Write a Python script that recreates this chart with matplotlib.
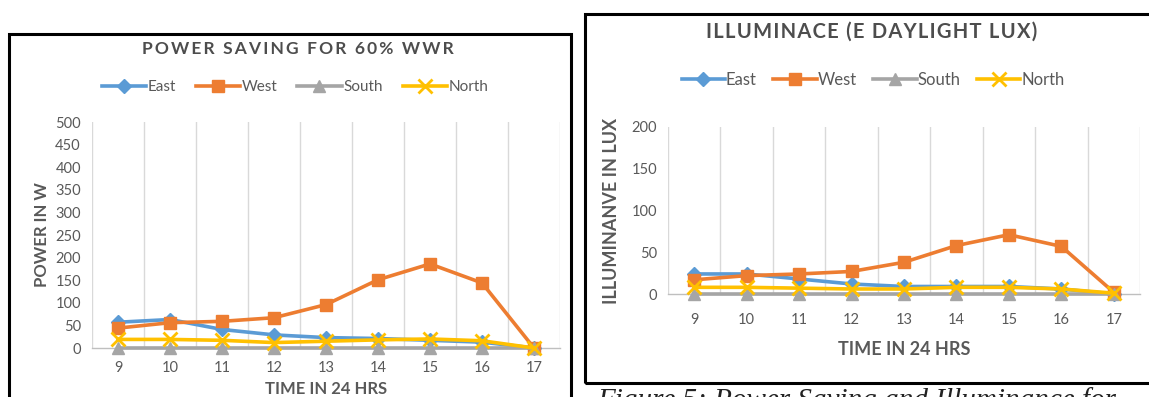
import numpy as np
import matplotlib
matplotlib.use("Agg")
import matplotlib.pyplot as plt
from matplotlib.patches import Rectangle

# hours of the day
hours = ["9", "10", "11", "12", "13", "14", "15", "16", "17"]

# power saving (W) for 60% WWR
power_east = [57, 63, 41, 29, 23, 21, 17, 13, 0]
power_west = [44, 56, 59, 67, 96, 151, 186, 144, 0]
power_south = [0, 0, 0, 0, 0, 0, 0, 0, 0]
power_north = [19, 19, 17, 12, 15, 18, 20, 16, 0]

# daylight illuminance (lux)
lux_east = [24, 24, 18, 12, 9, 9, 9, 6, 0]
lux_west = [17, 22, 24, 27, 38, 58, 71, 57, 2]
lux_south = [0, 0, 0, 0, 0, 0, 0, 0, 0]
lux_north = [8, 8, 7, 6, 6, 8, 8, 6, 1]

names = ["East", "West", "South", "North"]
colors = ["#5B9BD5", "#ED7D31", "#A5A5A5", "#FFC000"]
markers = ["D", "s", "^", "x"]
msizes = [7, 9, 9, 10]

plt.rcParams["font.family"] = ["Lato", "DejaVu Sans"]
txt = "#595959"


def spaced(s, gap="\u2009"):
    return gap.join(s)


fig = plt.figure(figsize=(11.49, 3.97), dpi=100)

# outer frames of the two chart objects
fig.patches.append(Rectangle((9 / 1149, -0.05), 562 / 1149, (397 - 34) / 397 + 0.05,
                             transform=fig.transFigure, fill=False, lw=2.2,
                             edgecolor="black", zorder=0))
fig.patches.append(Rectangle((585 / 1149, (397 - 383) / 397), 600 / 1149, (383 - 14) / 397,
                             transform=fig.transFigure, fill=False, lw=2.2,
                             edgecolor="black", zorder=0))


def draw(ax, series, ymax, step, xpad):
    x = np.arange(len(hours))
    order = [2, 0, 1, 3]
    for i in order:
        ax.plot(x, series[i], color=colors[i], marker=markers[i], ms=msizes[i],
                lw=2.6, mew=2 if markers[i] == "x" else 1, label=names[i],
                zorder=3 + i, clip_on=False)
    ax.set_xlim(-0.5, len(hours) - 0.5)
    ax.set_ylim(0, ymax)
    ax.set_yticks(np.arange(0, ymax + 1, step))
    ax.set_xticks(x)
    ax.set_xticklabels(hours)
    for b in np.arange(-0.5, len(hours), 1.0):
        ax.axvline(b, color="#D9D9D9", lw=1, zorder=1)
    for s in ["top", "right", "left"]:
        ax.spines[s].set_visible(False)
    ax.spines["bottom"].set_color("#BFBFBF")
    ax.spines["bottom"].set_linewidth(1)
    ax.tick_params(length=0, colors=txt, labelsize=10.5)
    ax.tick_params(axis="x", pad=xpad)
    ax.tick_params(axis="y", pad=8)


ax1 = fig.add_axes([92 / 1149, (397 - 348) / 397, 468 / 1149, 226 / 397])
draw(ax1, [power_east, power_west, power_south, power_north], 500, 50, 9)
ax1.set_xlabel("TIME IN 24 HRS", fontsize=12, fontweight="bold", color=txt, labelpad=5)
ax1.set_ylabel("POWER IN W", fontsize=12, fontweight="bold", color=txt, labelpad=4)
fig.text(298 / 1149, 1 - 49 / 397, spaced("POWER SAVING FOR 60% WWR"), ha="center",
         va="center", fontsize=12.5, fontweight="bold", color="#4d4d4d")
h, l = ax1.get_legend_handles_labels()
idx = [l.index(n) for n in names]
fig.legend([h[i] for i in idx], names, loc="center", bbox_to_anchor=(295 / 1149, 1 - 87 / 397),
           ncol=4, frameon=False, fontsize=11, handlelength=2.9, handletextpad=0.1,
           columnspacing=1.3, labelcolor=txt)

ax2 = fig.add_axes([668 / 1149, (397 - 294) / 397, 472 / 1149, 167 / 397])
draw(ax2, [lux_east, lux_west, lux_south, lux_north], 200, 50, 14)
ax2.set_xlabel("TIME IN 24 HRS", fontsize=13, fontweight="bold", color=txt, labelpad=10)
ax2.set_ylabel("ILLUMINANVE IN LUX", fontsize=13, fontweight="bold", color=txt, labelpad=8)
fig.text(872 / 1149, 1 - 32 / 397, spaced("ILLUMINACE (E DAYLIGHT LUX)", "\u200a"),
         ha="center", va="center", fontsize=14.5, fontweight="bold", color="#4d4d4d")
h, l = ax2.get_legend_handles_labels()
idx = [l.index(n) for n in names]
fig.legend([h[i] for i in idx], names, loc="center", bbox_to_anchor=(873 / 1149, 1 - 80 / 397),
           ncol=4, frameon=False, fontsize=12, handlelength=2.6, handletextpad=0.05,
           columnspacing=1.0, labelcolor=txt)

# caption underneath, cut by the page edge
fig.text(597 / 1149, 1 - 387 / 397, "Figure 5: Power Saving and Illuminance for",
         ha="left", va="top", fontsize=21, style="italic", family="Liberation Serif",
         color="#222222")

fig.savefig("out.png", dpi=100, facecolor="white")
